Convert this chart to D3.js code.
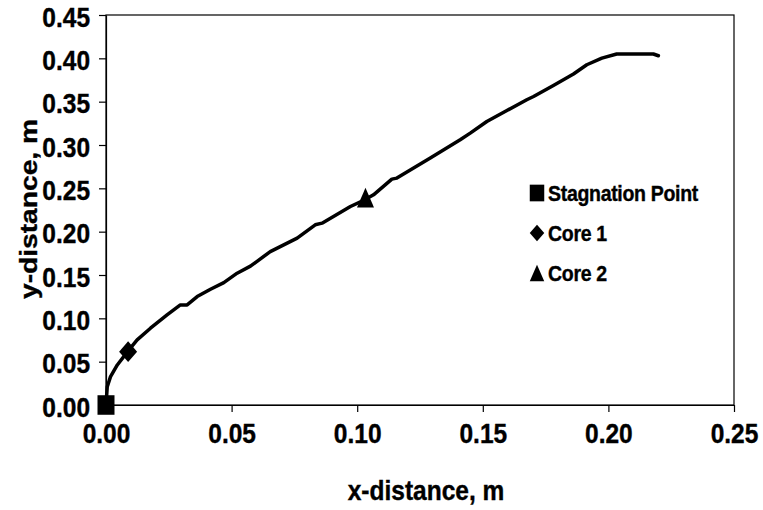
<!DOCTYPE html>
<html>
<head>
<meta charset="utf-8">
<script src="https://cdn.jsdelivr.net/npm/d3@7"></script>
<style>
  html, body { margin: 0; padding: 0; background: #fff; }
  svg { display: block; }
  text { font-family: "Liberation Sans", Arial, sans-serif; font-weight: bold; fill: #000; stroke: #000; stroke-width: 0.35px; }
</style>
</head>
<body>
<svg id="chart" width="763" height="510"></svg>
<script>
// ---- data ----
const pathX = [0, 0.0005, 0.0018, 0.0045, 0.0088, 0.0124, 0.0177, 0.0243, 0.0296, 0.0323, 0.0363, 0.0416, 0.0469, 0.0522, 0.0575, 0.0654, 0.0761, 0.0833, 0.0860, 0.0973, 0.1032, 0.1065, 0.1138, 0.1158, 0.1291, 0.1410, 0.1450, 0.1516, 0.1596, 0.1675, 0.1702, 0.1781, 0.1861, 0.1914, 0.1974, 0.2033, 0.2179, 0.2199];
const pathY = [0, 0.0211, 0.0327, 0.0462, 0.0624, 0.0751, 0.0886, 0.1039, 0.1155, 0.1155, 0.1251, 0.1336, 0.1412, 0.1521, 0.1602, 0.1770, 0.1925, 0.2079, 0.2098, 0.2290, 0.2370, 0.2425, 0.2606, 0.2618, 0.2849, 0.3060, 0.3137, 0.3271, 0.3398, 0.3522, 0.3560, 0.3687, 0.3819, 0.3926, 0.4003, 0.4050, 0.4050, 0.4030];
const pointNames = ["Stagnation Point", "Core 1", "Core 2"];
const pointShapes = ["square", "diamond", "triangle"];
const pointX = [0, 0.0088, 0.1033];
const pointY = [0, 0.0615, 0.2393];
const xTicks = [0, 0.05, 0.10, 0.15, 0.20, 0.25];
const yTicks = [0, 0.05, 0.10, 0.15, 0.20, 0.25, 0.30, 0.35, 0.40, 0.45];
const xTitle = "x-distance, m";
const yTitle = "y-distance, m";

// ---- layout ----
const svg = d3.select("#chart");
const L = 106, R = 734, T = 15, B = 405;
const SY = 1.15; // vertical stretch of text and markers
const x = d3.scaleLinear().domain([0, 0.25]).range([L, R]);
const y = d3.scaleLinear().domain([0, 0.45]).range([B, T]);

// frame
svg.append("rect").attr("x", L).attr("y", T).attr("width", R - L).attr("height", B - T)
  .attr("fill", "none").attr("stroke", "#000").attr("stroke-width", 1.2);

// axes
const xAxis = svg.append("g").attr("transform", `translate(0,${B})`)
  .call(d3.axisBottom(x).tickValues(xTicks).tickSize(7).tickSizeOuter(0).tickFormat(d3.format(".2f")));
const yAxis = svg.append("g").attr("transform", `translate(${L},0)`)
  .call(d3.axisLeft(y).tickValues(yTicks).tickSize(7).tickSizeOuter(0).tickFormat(d3.format(".2f")));
[xAxis, yAxis].forEach(g => {
  g.select(".domain").attr("stroke", "#000").attr("stroke-width", 1.2);
  g.selectAll(".tick line").attr("stroke", "#000").attr("stroke-width", 1.2);
  g.selectAll("text").attr("font-size", 24.5).attr("font-family", null).attr("fill", "#000");
});
xAxis.selectAll(".tick text").attr("y", 33).attr("dy", 0)
  .attr("transform", `scale(1,${SY})`);
yAxis.selectAll(".tick text").attr("x", -16).attr("y", 9.6).attr("dy", 0)
  .attr("transform", `scale(1,${SY})`);

// titles
svg.append("text").attr("text-anchor", "middle").attr("font-size", 24.5)
  .attr("transform", `translate(${(L + R) / 2 + 6},500) scale(1,${SY})`).text(xTitle);
svg.append("text").attr("text-anchor", "middle").attr("font-size", 24.5)
  .attr("transform", `translate(37,209) scale(1,${SY}) rotate(-90)`).text(yTitle);

// marker shapes (unit paths, scaled)
function shapePath(shape, w) {
  const h = w / 2;
  if (shape === "square") return `M${-h},${-h}H${h}V${h}H${-h}Z`;
  if (shape === "diamond") return `M0,${-h}L${h},0L0,${h}L${-h},0Z`;
  return `M0,${-h}L${h},${h}L${-h},${h}Z`;
}

// curve
const line = d3.line().x((d, i) => x(pathX[i])).y((d, i) => y(pathY[i]));
svg.append("path").attr("d", line(pathX)).attr("fill", "none")
  .attr("stroke", "#000").attr("stroke-width", 3.5)
  .attr("stroke-linejoin", "round").attr("stroke-linecap", "round");

// points
const plotSizes = [17, 18, 17];
pointNames.forEach((n, i) => {
  svg.append("path").attr("d", shapePath(pointShapes[i], plotSizes[i]))
    .attr("transform", `translate(${x(pointX[i])},${y(pointY[i])}) scale(1,${SY})`)
    .attr("fill", "#000");
});

// legend
const legY = [193, 233, 273];
pointNames.forEach((n, i) => {
  svg.append("path").attr("d", shapePath(pointShapes[i], 14.5))
    .attr("transform", `translate(537,${legY[i]}) scale(1,${SY})`)
    .attr("fill", "#000");
  svg.append("text").attr("font-size", 19.5).attr("letter-spacing", -0.3)
    .attr("transform", `translate(548,${legY[i] + 8}) scale(1,${SY})`).text(n);
});
</script>
</body>
</html>
